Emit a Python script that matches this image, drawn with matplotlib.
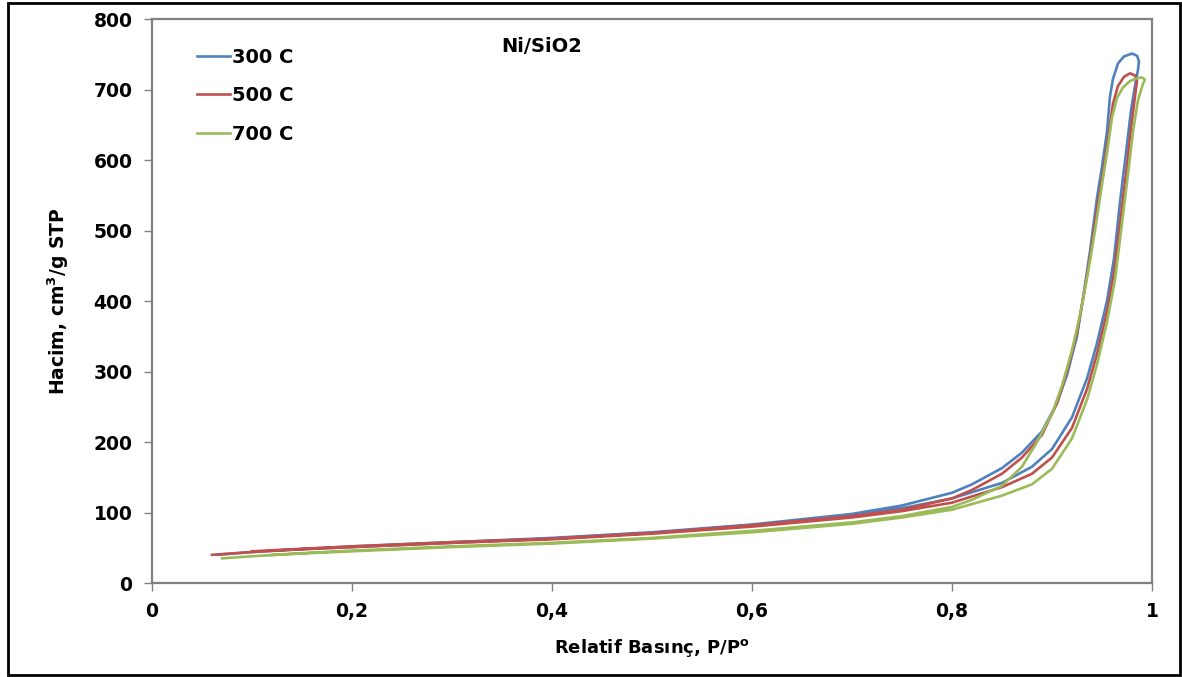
import numpy as np
import matplotlib.pyplot as plt
from matplotlib.patches import Rectangle

# N2 adsorption / desorption isotherms, Ni/SiO2 calcined at 300, 500, 700 C
# each loop runs up the adsorption branch and back down the desorption branch
p_300 = [0.065, 0.10, 0.15, 0.20, 0.30, 0.40, 0.50, 0.60, 0.70, 0.75, 0.80,
         0.85, 0.88, 0.90, 0.92, 0.935, 0.945, 0.955, 0.962, 0.968, 0.974,
         0.979, 0.983, 0.986, 0.987, 0.985, 0.980, 0.972, 0.966, 0.961,
         0.958, 0.955, 0.950, 0.945, 0.938, 0.931, 0.925, 0.915, 0.905,
         0.89, 0.87, 0.85, 0.82, 0.80, 0.75, 0.70, 0.60, 0.50, 0.40, 0.30,
         0.20, 0.12]
v_300 = [40, 44, 48, 51, 57, 63, 71, 82, 96, 106, 120,
         142, 165, 190, 235, 290, 340, 400, 460, 540, 610,
         670, 705, 728, 740, 748, 751, 747, 737, 715,
         690, 640, 590, 546, 470, 404, 350, 295, 255,
         215, 185, 163, 140, 128, 110, 98, 83, 72, 64, 58,
         52, 46]

p_500 = [0.06, 0.10, 0.15, 0.20, 0.30, 0.40, 0.50, 0.60, 0.70, 0.75, 0.80,
         0.85, 0.88, 0.90, 0.92, 0.935, 0.945, 0.955, 0.962, 0.968, 0.974,
         0.979, 0.983, 0.985, 0.983, 0.978, 0.972, 0.966, 0.961, 0.957,
         0.952, 0.946, 0.940, 0.932, 0.925, 0.915, 0.905, 0.89, 0.87, 0.85,
         0.82, 0.80, 0.75, 0.70, 0.60, 0.50, 0.40, 0.30, 0.20, 0.10]
v_500 = [40, 44, 48, 51, 57, 62, 70, 80, 93, 102, 114,
         136, 155, 178, 220, 275, 325, 385, 440, 510, 580,
         645, 690, 712, 720, 723, 718, 705, 680, 640,
         590, 540, 480, 410, 355, 300, 255, 210, 178, 155,
         132, 120, 104, 95, 82, 71, 63, 58, 52, 45]

p_700 = [0.07, 0.10, 0.15, 0.20, 0.30, 0.40, 0.50, 0.60, 0.70, 0.75, 0.80,
         0.85, 0.88, 0.90, 0.92, 0.935, 0.945, 0.955, 0.963, 0.970, 0.976,
         0.981, 0.986, 0.991, 0.993, 0.990, 0.985, 0.978, 0.971, 0.965,
         0.960, 0.955, 0.950, 0.943, 0.936, 0.928, 0.920, 0.910, 0.900,
         0.885, 0.87, 0.85, 0.82, 0.80, 0.75, 0.70, 0.60, 0.50, 0.40, 0.30,
         0.20, 0.12]
v_700 = [35, 38, 42, 45, 51, 56, 63, 72, 84, 93, 104,
         124, 140, 162, 205, 260, 310, 370, 430, 510, 580,
         640, 685, 708, 714, 717, 716, 712, 703, 688,
         660, 610, 565, 500, 440, 380, 330, 280, 240,
         200, 165, 138, 118, 108, 95, 86, 74, 64, 57, 52,
         46, 40]

labels = ["300 C", "500 C", "700 C"]
colors = ["#4F81BD", "#C0504D", "#9BBB59"]

x_ticks = [0, 0.2, 0.4, 0.6, 0.8, 1]
x_tick_labels = ["0", "0,2", "0,4", "0,6", "0,8", "1"]
y_ticks = [0, 100, 200, 300, 400, 500, 600, 700, 800]

plt.rcParams['font.family'] = ['DejaVu Sans']

fig = plt.figure(figsize=(11.82, 6.77), dpi=100)
ax = fig.add_axes([0.1286, 0.1388, 0.8460, 0.8331])

for p, v, lab, c in zip([p_300, p_500, p_700], [v_300, v_500, v_700], labels, colors):
    ax.plot(p, v, color=c, lw=1.9, label=lab, solid_joinstyle='round')

ax.set_xlim(0, 1)
ax.set_ylim(0, 800)
ax.set_xticks(x_ticks)
ax.set_xticklabels(x_tick_labels)
ax.set_yticks(y_ticks)

for s in ax.spines.values():
    s.set_color("#808080")
    s.set_linewidth(1.6)

ax.tick_params(axis='both', which='major', direction='out', length=6,
               width=1, color="#808080", labelsize=13.5)
ax.tick_params(axis='y', pad=8)
ax.tick_params(axis='x', pad=8)
for t in ax.get_xticklabels() + ax.get_yticklabels():
    t.set_fontweight('bold')

ax.set_xlabel("Relatif Basınç, P/P$^{\\mathregular{o}}$", fontsize=13,
              fontweight='bold', labelpad=11)
ax.set_ylabel("Hacim, cm$^{\\mathregular{3}}$/g STP", fontsize=13.5,
              fontweight='bold', labelpad=16)

ax.text(0.39, 0.952, "Ni/SiO2", transform=ax.transAxes, fontsize=14,
        fontweight='bold', ha='center', va='center')

leg = ax.legend(loc='upper left', bbox_to_anchor=(0.027, 0.98), frameon=False,
                prop={'weight': 'bold', 'size': 14}, handlelength=1.7,
                handletextpad=0.15, labelspacing=1.0)

# black border round the whole figure
fig.patches.append(Rectangle((0.007, 0.003), 0.991, 0.992, transform=fig.transFigure,
                             fill=False, edgecolor='black', linewidth=2))

fig.savefig("out.png", dpi=100)
